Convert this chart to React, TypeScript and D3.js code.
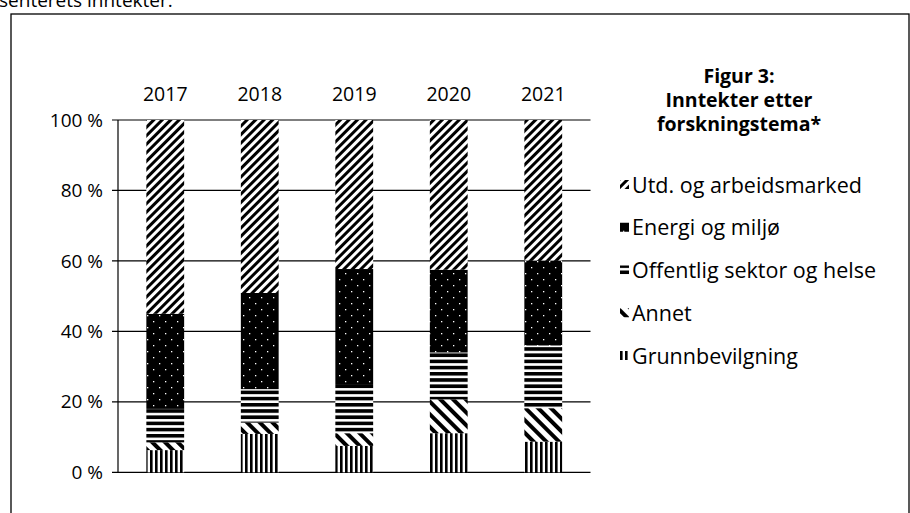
import * as d3 from "d3";

const years = ["2017", "2018", "2019", "2020", "2021"];
const grunnbevilgning = [6.3, 10.9, 7.5, 11.1, 8.7];
const annet = [2.2, 3.2, 3.6, 9.6, 9.5];
const offentlig = [9.5, 9.5, 13.7, 13.3, 17.8];
const energi = [27.0, 27.3, 32.9, 23.5, 24.1];
const utd = [55.0, 49.1, 42.3, 42.5, 39.9];

const yTicks = [0, 20, 40, 60, 80, 100];
const seriesKeys = ["grunn", "annet", "off", "energi", "utd"];
const legendLabels = [
  "Utd. og arbeidsmarked",
  "Energi og miljø",
  "Offentlig sektor og helse",
  "Annet",
  "Grunnbevilgning",
];
const legendKeys = ["utd", "energi", "off", "annet", "grunn"];
const titleLines = ["Figur 3:", "Inntekter etter", "forskningstema*"];

const FONT = "'Open Sans', 'Noto Sans', sans-serif";

const App = () => {
  const width = 910;
  const height = 513;

  const rows = years.map((y, i) => ({
    year: y,
    grunn: grunnbevilgning[i],
    annet: annet[i],
    off: offentlig[i],
    energi: energi[i],
    utd: utd[i],
  }));

  const stack = d3.stack<any>().keys(seriesKeys);
  const series = stack(rows);

  const x = d3
    .scaleBand<string>()
    .domain(years)
    .range([118, 590.5])
    .paddingInner(0.6)
    .paddingOuter(0.3);

  const y = d3.scaleLinear().domain([0, 100]).range([472.3, 120]);

  const legendY = d3
    .scalePoint<string>()
    .domain(legendKeys)
    .range([185, 356]);

  return (
    <svg
      width={width}
      height={height}
      style={{ position: "absolute", left: 0, top: 0, background: "#fff" }}
      fontFamily={FONT}
    >
      <defs>
        <pattern id="p-utd" width="6" height="6" patternUnits="userSpaceOnUse" patternTransform="rotate(45)">
          <rect width="6" height="6" fill="#fff" />
          <rect width="3" height="6" fill="#000" />
        </pattern>
        <pattern id="p-energi" width="12" height="12" patternUnits="userSpaceOnUse">
          <rect width="12" height="12" fill="#000" />
          <rect x="3" y="3" width="1.3" height="1.3" fill="#fff" />
          <rect x="9" y="9" width="1.3" height="1.3" fill="#fff" />
        </pattern>
        <pattern id="p-off" width="6" height="6.2" patternUnits="userSpaceOnUse">
          <rect width="6" height="6.2" fill="#fff" />
          <rect width="6" height="3.6" fill="#000" />
        </pattern>
        <pattern id="p-annet" width="9" height="9" patternUnits="userSpaceOnUse" patternTransform="rotate(-45)">
          <rect width="9" height="9" fill="#fff" />
          <rect width="4" height="9" fill="#000" />
        </pattern>
        <pattern id="p-grunn" width="5" height="5" patternUnits="userSpaceOnUse">
          <rect width="5" height="5" fill="#fff" />
          <rect width="2.6" height="5" fill="#000" />
        </pattern>
      </defs>

      {/* caption text cut at the top */}
      <text x={-1} y={7} fontSize={19} fill="#000">
        senterets inntekter.
      </text>

      {/* frame */}
      <rect x={11} y={14} width={898} height={600} fill="none" stroke="#000" strokeWidth={1.3} />

      {/* gridlines */}
      {yTicks.map((t) => (
        <line key={t} x1={112} x2={590.5} y1={y(t)} y2={y(t)} stroke="#000" strokeWidth={1.2} />
      ))}
      <line x1={118} x2={118} y1={y(100)} y2={y(0)} stroke="#000" strokeWidth={1.2} />

      {/* y tick labels */}
      {yTicks.map((t) => (
        <text key={t} x={103} y={y(t)} dy="0.35em" textAnchor="end" fontSize={19} fill="#000">
          {`${t} %`}
        </text>
      ))}

      {/* year labels on top */}
      {years.map((yr) => (
        <text key={yr} x={(x(yr) ?? 0) + x.bandwidth() / 2} y={101} textAnchor="middle" fontSize={19.5} fill="#000">
          {yr}
        </text>
      ))}

      {/* bars */}
      {series.map((s) => (
        <g key={s.key} fill={`url(#p-${s.key})`}>
          {s.map((d, i) => (
            <rect
              key={i}
              x={x(years[i])}
              y={y(d[1])}
              width={x.bandwidth()}
              height={y(d[0]) - y(d[1])}
            />
          ))}
        </g>
      ))}

      {/* title */}
      <text x={739} y={83} textAnchor="middle" fontSize={19.5} fontWeight="bold" fill="#000">
        {titleLines.map((line, i) => (
          <tspan key={i} x={739} dy={i === 0 ? 0 : 24}>
            {line}
          </tspan>
        ))}
      </text>

      {/* legend */}
      {legendKeys.map((k, i) => (
        <g key={k} transform={`translate(620,${legendY(k)})`}>
          <rect x={0} y={-5} width={9} height={9} fill={`url(#p-${k})`} />
          <text x={12} y={0} dy="0.35em" fontSize={21.5} fill="#000">
            {legendLabels[i]}
          </text>
        </g>
      ))}
    </svg>
  );
};

export default App;
